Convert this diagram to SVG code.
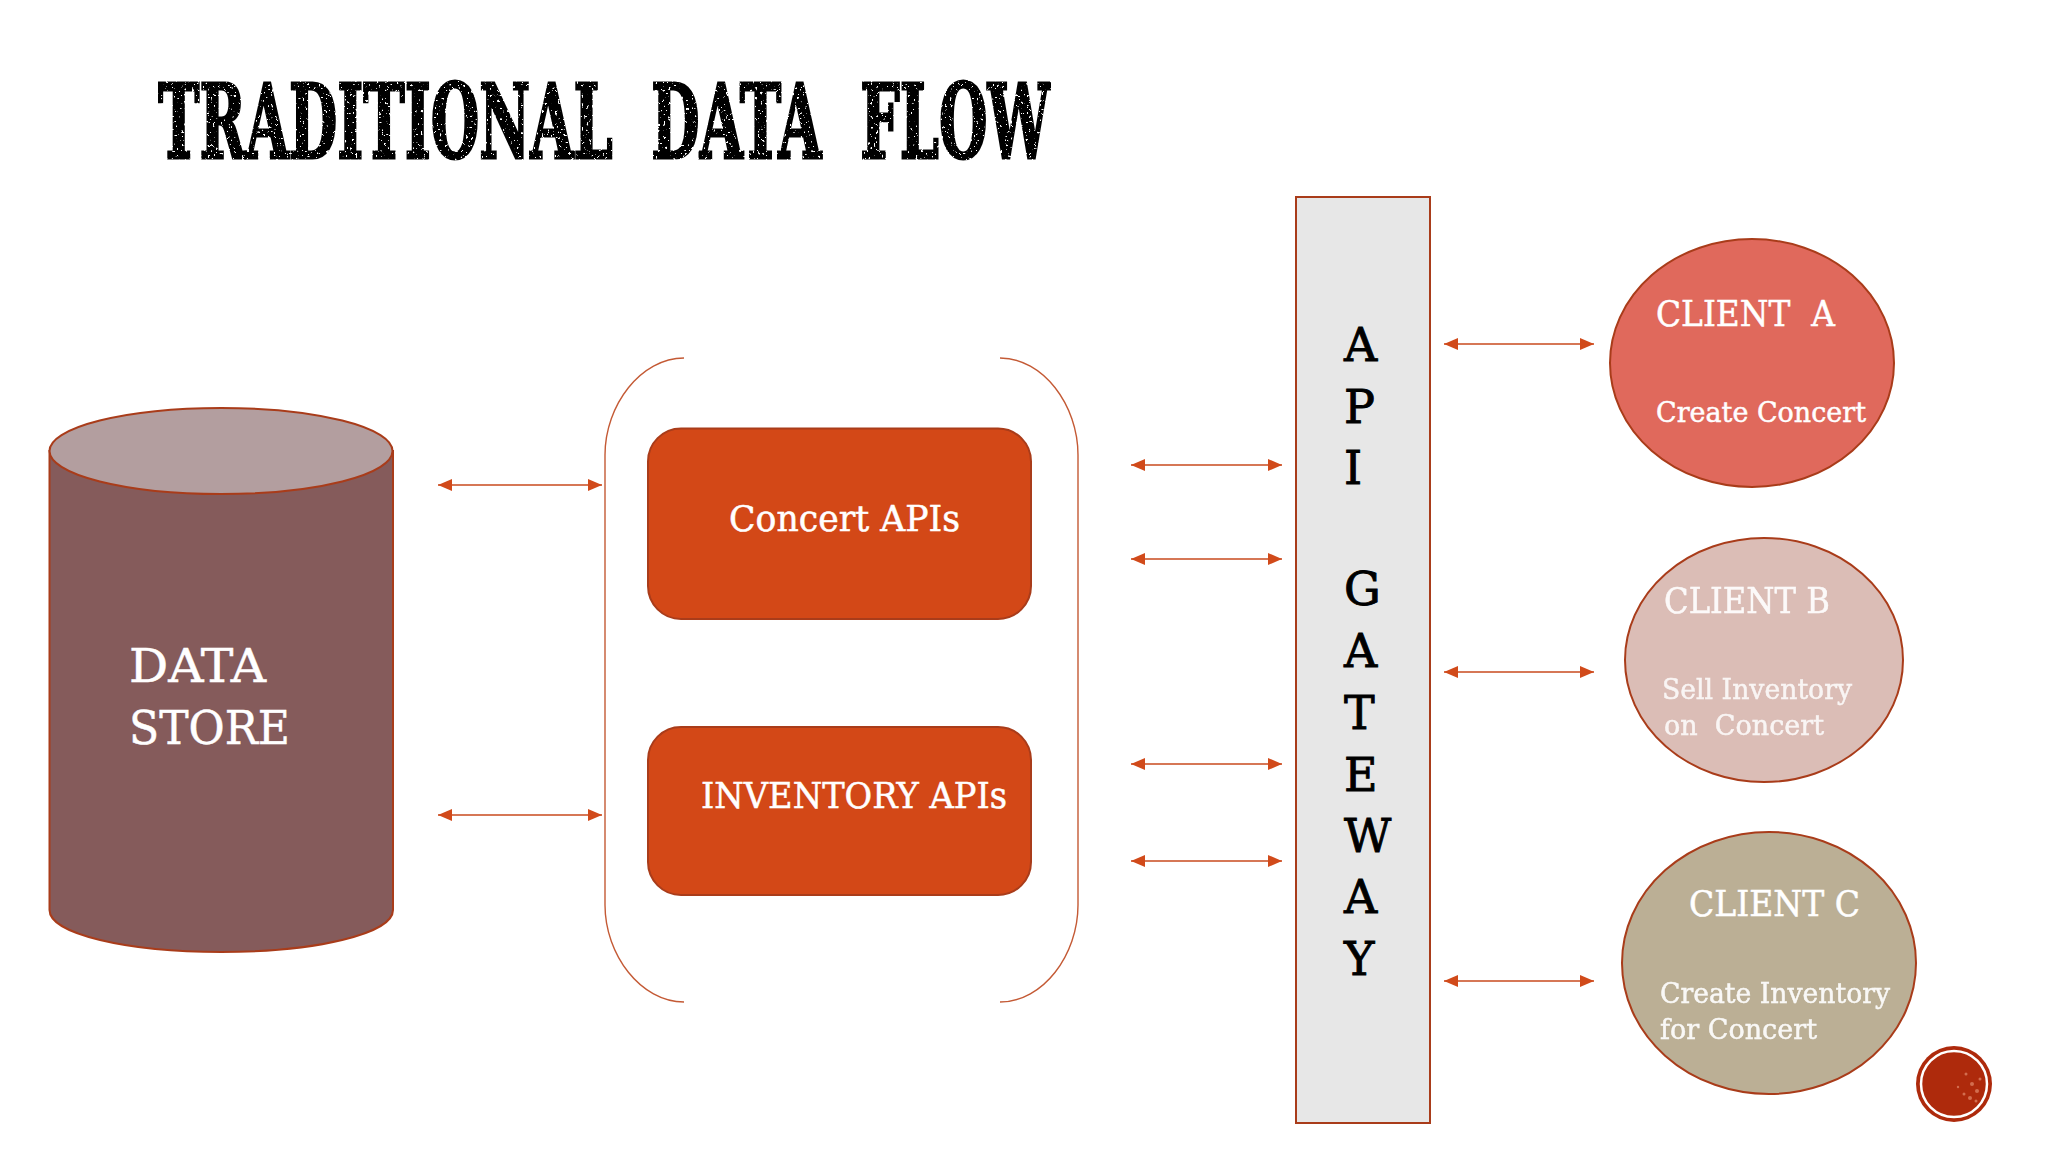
<svg xmlns="http://www.w3.org/2000/svg" width="2048" height="1152" viewBox="0 0 2048 1152">
<style>
.serif{font-family:"DejaVu Serif","Liberation Serif",serif;white-space:pre}
.w{fill:#fff;stroke:#fff;stroke-width:.5}
.lbl{font-size:35px}
.h{font-size:36px}
.s{font-size:28px}
.sh{stroke:#a93c1a;stroke-width:2}
.cx{stroke:#c84a1e;stroke-width:1.5;fill:none;marker-start:url(#ah);marker-end:url(#ah)}
.br{fill:none;stroke:#c45a35;stroke-width:1.4}
</style>
<defs>
<marker id="ah" markerUnits="userSpaceOnUse" markerWidth="14" markerHeight="14" refX="14" refY="7" orient="auto-start-reverse" viewBox="0 0 14 14"><path d="M0 1 L14 7 L0 13 Z" fill="#d14a1a"/></marker>
<filter id="grunge" x="0" y="0" width="100%" height="100%" color-interpolation-filters="sRGB">
<feTurbulence type="fractalNoise" baseFrequency="0.38" numOctaves="2" seed="5" result="n"/>
<feColorMatrix in="n" type="matrix" values="0 0 0 0 0 0 0 0 0 0 0 0 0 0 0 0 0 0 -16 5.4" result="m"/>
<feComposite in="SourceGraphic" in2="m" operator="out"/>
</filter>
</defs>
<rect width="2048" height="1152" fill="#fff"/>
<text id="title" class="serif" x="158" y="158" font-size="103" font-weight="700" fill="#000" stroke="#000" stroke-width="3" filter="url(#grunge)" textLength="892" lengthAdjust="spacingAndGlyphs">TRADITIONAL  DATA  FLOW</text>
<g id="connectors">
<line class="cx" x1="438" y1="485" x2="602" y2="485"/>
<line class="cx" x1="438" y1="815" x2="602" y2="815"/>
<line class="cx" x1="1131" y1="465" x2="1282" y2="465"/>
<line class="cx" x1="1131" y1="559" x2="1282" y2="559"/>
<line class="cx" x1="1131" y1="764" x2="1282" y2="764"/>
<line class="cx" x1="1131" y1="861" x2="1282" y2="861"/>
<line class="cx" x1="1444" y1="344" x2="1594" y2="344"/>
<line class="cx" x1="1444" y1="672" x2="1594" y2="672"/>
<line class="cx" x1="1444" y1="981" x2="1594" y2="981"/>
</g>
<g id="data-store">
<path class="sh" fill="#855b5b" d="M49.500 451 V910 C49.500 934 127 952 221 952 C315 952 393 934 393 910 V451 Z"/>
<ellipse class="sh" cx="221" cy="451" rx="171.500" ry="43" fill="#b39e9f"/>
<text class="serif w" font-size="47"><tspan x="129" y="682" textLength="137" lengthAdjust="spacingAndGlyphs">DATA</tspan><tspan x="129" y="744" textLength="161" lengthAdjust="spacingAndGlyphs">STORE</tspan></text>
</g>
<g id="api-group">
<path class="br" d="M684 358 C641 358 605 405 605 455 V905 C605 955 641 1002 684 1002"/>
<path class="br" d="M1000 358 C1043 358 1078 405 1078 455 V905 C1078 955 1043 1002 1000 1002"/>
</g>
<g id="concert-apis">
<rect class="sh" x="648" y="428.500" width="383" height="190.500" rx="33" fill="#d34817"/>
<text class="serif w lbl" x="729" y="531" textLength="231" lengthAdjust="spacingAndGlyphs">Concert APIs</text>
</g>
<g id="inventory-apis">
<rect class="sh" x="648" y="727" width="383" height="168" rx="33" fill="#d34817"/>
<text class="serif w lbl" x="701" y="808" textLength="306" lengthAdjust="spacingAndGlyphs">INVENTORY APIs</text>
</g>
<g id="api-gateway">
<rect class="sh" x="1296" y="197" width="134" height="926" fill="#e7e7e7"/>
<text class="serif" font-size="46" fill="#000" stroke="#000" stroke-width=".9"><tspan x="1344" y="361">A</tspan><tspan x="1344" y="423">P</tspan><tspan x="1344" y="484">I</tspan><tspan x="1344" y="605">G</tspan><tspan x="1344" y="667">A</tspan><tspan x="1344" y="729">T</tspan><tspan x="1344" y="791">E</tspan><tspan x="1344" y="852">W</tspan><tspan x="1344" y="913">A</tspan><tspan x="1344" y="975">Y</tspan></text>
</g>
<g id="client-a">
<ellipse class="sh" cx="1752" cy="363" rx="142" ry="124" fill="#e0695c"/>
<text class="serif w h" x="1656" y="326" textLength="179" lengthAdjust="spacingAndGlyphs">CLIENT  A</text>
<text class="serif w s" x="1656" y="422" textLength="210" lengthAdjust="spacingAndGlyphs">Create Concert</text>
</g>
<g id="client-b">
<ellipse class="sh" cx="1764" cy="660" rx="139" ry="122" fill="#dbbdb6"/>
<text class="serif w h" x="1664" y="613" textLength="166" lengthAdjust="spacingAndGlyphs" opacity=".92">CLIENT B</text>
<text class="serif w s" opacity=".85"><tspan x="1662" y="699" textLength="190" lengthAdjust="spacingAndGlyphs">Sell Inventory</tspan><tspan x="1664" y="735" textLength="160" lengthAdjust="spacingAndGlyphs">on  Concert</tspan></text>
</g>
<g id="client-c">
<ellipse class="sh" cx="1769" cy="963" rx="147" ry="131" fill="#bbaf95"/>
<text class="serif w h" x="1689" y="916" textLength="171" lengthAdjust="spacingAndGlyphs">CLIENT C</text>
<text class="serif w s" opacity=".92"><tspan x="1660" y="1003" textLength="230" lengthAdjust="spacingAndGlyphs">Create Inventory</tspan><tspan x="1660" y="1039" textLength="157" lengthAdjust="spacingAndGlyphs">for Concert</tspan></text>
</g>
<g id="page-badge">
<circle cx="1954" cy="1084" r="38" fill="#ae2a0c"/>
<circle cx="1954" cy="1084" r="33" fill="none" stroke="#fff" stroke-width="2.500"/>
<g fill="#e28a6c" opacity=".7"><circle cx="1966" cy="1074" r="1.500"/><circle cx="1972" cy="1084" r="2"/><circle cx="1977" cy="1091" r="2"/><circle cx="1964" cy="1094" r="1.500"/><circle cx="1970" cy="1098" r="2"/><circle cx="1980" cy="1079" r="1.500"/><circle cx="1958" cy="1087" r="1.200"/><circle cx="1976" cy="1101" r="1.500"/></g>
</g>
</svg>
